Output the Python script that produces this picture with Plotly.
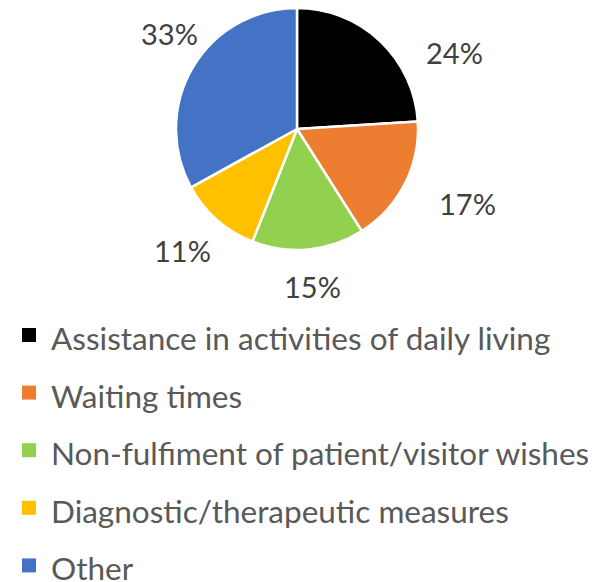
import plotly.graph_objects as go

categories = ["Assistance in activities of daily living", "Waiting times",
              "Non-fulfiment of patient/visitor wishes", "Diagnostic/therapeutic measures", "Other"]
values = [24, 17, 15, 11, 33]
colors = ["#000000", "#ED7D31", "#92D050", "#FFC000", "#4472C4"]

# layout (page pixels); the page body has an 8px margin, so figure is offset by 8px
OFF = 8
PAGE_W, PAGE_H = 596, 582
W, H = PAGE_W - OFF, PAGE_H - OFF
FONT = "Lato"
LEGEND_GREY = "#595959"
LABEL_GREY = "#404040"

def px_x(x):
    return (x - OFF) / W

def px_y(y):
    return 1 - (y - OFF) / H

cx_px, cy_px, r_px = 297, 129, 121
# label positions relative to pie centre (Excel "best fit" placement)
label_offsets = [(157, -77), (170, 74), (15, 157), (-115, 122), (-127, -95)]

fig = go.Figure(go.Pie(
    labels=categories, values=values, sort=False, direction="clockwise", rotation=0,
    marker=dict(colors=colors, line=dict(color="white", width=2.5)),
    textinfo="none", hoverinfo="label+percent", showlegend=False,
    domain=dict(x=[px_x(cx_px - r_px), px_x(cx_px + r_px)],
                y=[px_y(cy_px + r_px), px_y(cy_px - r_px)]),
))

annotations = []
total = sum(values)
for v, (dx, dy) in zip(values, label_offsets):
    annotations.append(dict(x=px_x(cx_px + dx), y=px_y(cy_px + dy), xref="paper", yref="paper",
                            text=f"{round(v / total * 100)}%", showarrow=False,
                            xanchor="center", yanchor="middle",
                            font=dict(family=FONT, size=29, color=LABEL_GREY)))

shapes = []
row0, step = 335, 57.6
for i, (c, col) in enumerate(zip(categories, colors)):
    yc = row0 + i * step
    shapes.append(dict(type="rect", xref="paper", yref="paper",
                       x0=px_x(22), x1=px_x(36), y0=px_y(yc + 7), y1=px_y(yc - 7),
                       fillcolor=col, line=dict(width=0)))
    annotations.append(dict(x=px_x(49), y=px_y(yc + 3), xref="paper", yref="paper",
                            text=c, showarrow=False, xanchor="left", yanchor="middle",
                            font=dict(family=FONT, size=31.5, color=LEGEND_GREY)))

fig.update_layout(width=W, height=H, margin=dict(l=0, r=0, t=0, b=0),
                  paper_bgcolor="white", plot_bgcolor="white",
                  annotations=annotations, shapes=shapes)
fig.write_html("out.html")
